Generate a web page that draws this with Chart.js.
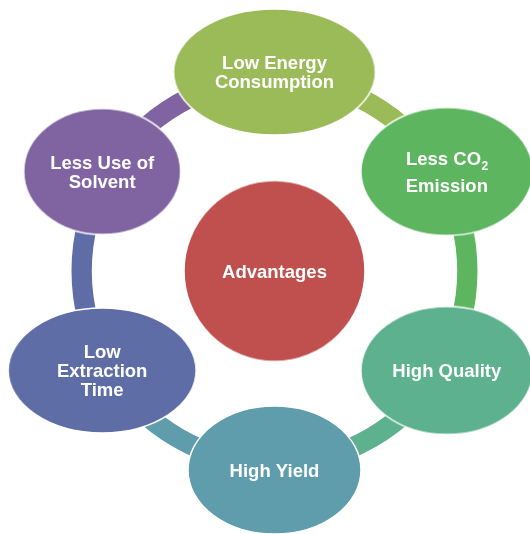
<!DOCTYPE html>
<html>
<head>
<meta charset="utf-8">
<script src="https://cdn.jsdelivr.net/npm/chart.js@4.4.0/dist/chart.umd.min.js"></script>
<style>
  html, body { margin: 0; padding: 0; background: #fff; }
  #wrap { position: relative; width: 530px; height: 534px; overflow: hidden; }
  #wrap canvas { position: absolute; left: 0; top: 0; }
</style>
</head>
<body>
<div id="wrap">
  <canvas id="ring" width="530" height="534"></canvas>
  <canvas id="nodes" width="530" height="534"></canvas>
</div>
<script>
// diagram data: one hub, six benefits placed round a ring (clockwise from top)
const centerLabel = ["Advantages"];
const nodeLabels = [
  ["Low Energy", "Consumption"],
  ["Less CO₂", "Emission"],
  ["High Quality"],
  ["High Yield"],
  ["Low", "Extraction", "Time"],
  ["Less Use of", "Solvent"],
];
const nodeX = [0, 0.866, 0.866, 0, -0.866, -0.866];
const nodeY = [1, 0.5, -0.5, -1, -0.5, 0.5];
const ringShare = [1, 1, 1, 1, 1, 1];

// styles
const centerColor = "#C0504D";
const nodeColors = ["#9BBB59", "#5DB55F", "#5DB18F", "#5F9DAC", "#5F6DA7", "#8064A2"];
const nodeSize = [[202, 126], [172, 128], [172, 128], [173, 128], [188, 125], [157, 126]];
const lineGap = [19, 27, 19, 19, 19, 19];
const FONT = '"Liberation Sans", Arial, sans-serif';
const FS = 18.5;

function ellipseImage(w, h, color) {
  //OFFSCREEN CANVAS USED AS THE POINT STYLE
  const c = document.createElement("canvas");
  c.width = w + 4;
  c.height = h + 4;
  const ctx = c.getContext("2d");
  ctx.beginPath();
  ctx.ellipse(c.width / 2, c.height / 2, w / 2, h / 2, 0, 0, Math.PI * 2);
  ctx.fillStyle = color;
  ctx.fill();
  ctx.lineWidth = 1.5;
  ctx.strokeStyle = "#fff";
  ctx.stroke();
  return c;
}

function drawLine(ctx, text, x, y) {
  //DRAW ONE LINE, WITH "₂" AS A REAL SUBSCRIPT
  const parts = text.split("₂");
  ctx.font = "bold " + FS + "px " + FONT;
  if (parts.length === 1) {
    ctx.textAlign = "center";
    ctx.fillText(text, x, y);
    return;
  }
  const w1 = ctx.measureText(parts[0]).width;
  ctx.font = "bold 12px " + FONT;
  const w2 = ctx.measureText("2").width;
  const left = x - (w1 + w2) / 2;
  ctx.textAlign = "left";
  ctx.font = "bold " + FS + "px " + FONT;
  ctx.fillText(parts[0], left, y);
  ctx.font = "bold 12px " + FONT;
  ctx.fillText("2", left + w1 + 0.5, y + 5);
}

const labelPlugin = {
  id: "labels",
  afterDatasetsDraw(chart) {
    const ctx = chart.ctx;
    ctx.save();
    ctx.fillStyle = "#fff";
    ctx.textBaseline = "alphabetic";
    chart.data.datasets.forEach((ds, di) => {
      const meta = chart.getDatasetMeta(di);
      meta.data.forEach((pt, i) => {
        const lines = ds.labelLines[i];
        const gap = ds.lineGap[i];
        const y0 = pt.y + 6.5 - ((lines.length - 1) * gap) / 2;
        lines.forEach((ln, k) => drawLine(ctx, ln, pt.x, y0 + k * gap));
      });
    });
    ctx.restore();
  },
};

// the connecting ring
new Chart(document.getElementById("ring"), {
  type: "doughnut",
  data: {
    labels: nodeLabels.map((l) => l.join(" ")),
    datasets: [{ data: ringShare, backgroundColor: nodeColors, borderWidth: 0 }],
  },
  options: {
    responsive: false,
    animation: false,
    events: [],
    radius: 203,
    cutout: "90%",
    layout: { padding: { left: 19, top: 8 } },
    plugins: { legend: { display: false }, tooltip: { enabled: false } },
  },
});

// hub and satellite nodes
const UNIT = 199;
new Chart(document.getElementById("nodes"), {
  type: "scatter",
  data: {
    datasets: [
      {
        data: [{ x: 0, y: 0 }],
        pointStyle: [ellipseImage(181, 181, centerColor)],
        labelLines: [centerLabel],
        lineGap: [19],
        clip: false,
      },
      {
        data: nodeX.map((x, i) => ({ x: x, y: nodeY[i] })),
        pointStyle: nodeColors.map((c, i) => ellipseImage(nodeSize[i][0], nodeSize[i][1], c)),
        labelLines: nodeLabels,
        lineGap: lineGap,
        clip: false,
      },
    ],
  },
  options: {
    responsive: false,
    animation: false,
    events: [],
    layout: { padding: 0, autoPadding: false },
    scales: {
      x: { type: "linear", display: false, min: -274.5 / UNIT, max: 255.5 / UNIT },
      y: { type: "linear", display: false, min: -263 / UNIT, max: 271 / UNIT },
    },
    plugins: { legend: { display: false }, tooltip: { enabled: false } },
  },
  plugins: [labelPlugin],
});
</script>
</body>
</html>
